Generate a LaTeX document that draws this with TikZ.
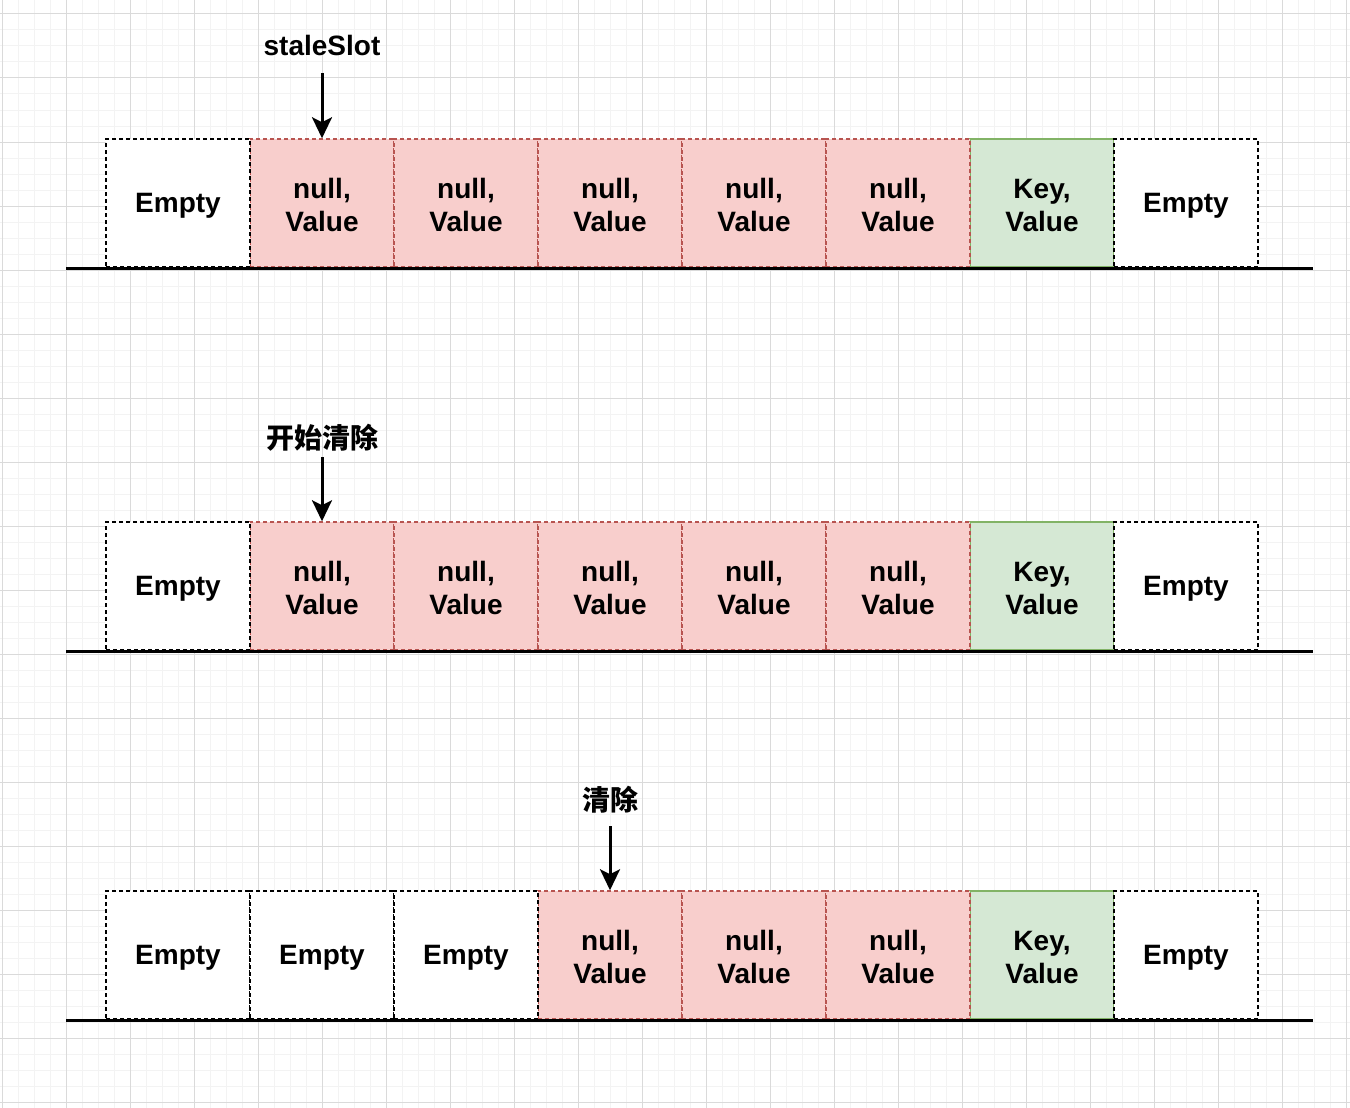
\documentclass[tikz,border=0pt]{standalone}
\usepackage{fontspec}
\setmainfont{Liberation Sans}
\newfontfamily\cjk{Noto Sans CJK SC}
\usetikzlibrary{arrows.meta}
\definecolor{redfill}{HTML}{F8CECC}
\definecolor{redline}{HTML}{B85450}
\definecolor{greenfill}{HTML}{D5E8D4}
\definecolor{greenline}{HTML}{82B366}
\definecolor{gridminor}{HTML}{F3F3F3}
\definecolor{gridmajor}{HTML}{DADADA}
\tikzset{
  cellbox/.style={rectangle, inner sep=0pt, minimum width=144pt, minimum height=128pt, line width=1.5pt, dash pattern=on 4pt off 3pt},
  emptycell/.style={cellbox, draw=black, fill=white},
  redcell/.style={cellbox, draw=redline, fill=redfill},
  greencell/.style={cellbox, draw=greenline, fill=greenfill, solid},
  celltext/.style={anchor=base, inner sep=0pt, font=\fontsize{28}{32}\selectfont\bfseries},
  toplabel/.style={anchor=base, inner sep=0pt, font=\fontsize{28}{32}\selectfont\bfseries},
  cjklabel/.style={anchor=base, inner sep=0pt, font=\fontsize{28}{32}\selectfont\cjk\bfseries},
  baseline/.style={line width=3pt, black},
  pointer/.style={line width=3pt, -{Stealth[length=21pt,width=20pt,inset=5pt]}}
}
\begin{document}
\begin{tikzpicture}[x=1pt,y=-1pt]
\useasboundingbox (0,0) rectangle (1350,1108);
\fill[white] (0,0) rectangle (1350,1108);
% grid
\foreach \gx in {2,18,...,1350} {\draw[gridminor, line width=1pt] (\gx,0) -- (\gx,1108);}
\foreach \gy in {-2,14,...,1108} {\draw[gridminor, line width=1pt] (0,\gy) -- (1350,\gy);}
\foreach \gx in {2,66,...,1350} {\draw[gridmajor, line width=1pt] (\gx,0) -- (\gx,1108);}
\foreach \gy in {14,78,...,1108} {\draw[gridmajor, line width=1pt] (0,\gy) -- (1350,\gy);}

% ---------- row 1 ----------
\node[greencell] (r1c7) at (1042,203) {};
\foreach \i/\cx in {2/322,3/466,4/610,5/754,6/898} {\node[redcell] (r1c\i) at (\cx,203) {};}
\node[emptycell] (r1c1) at (178,203) {};
\node[emptycell] (r1c8) at (1186,203) {};
\coordinate (b1l) at (66,268);
\coordinate (b1r) at (1313,268);
\draw[baseline] (b1l) -- (b1r);
\node[celltext] (t1c1) at (178,212.5) {Empty};
\node[celltext] (t1c8) at (1186,212.5) {Empty};
\foreach \i/\cx in {2/322,3/466,4/610,5/754,6/898} {
  \node[celltext] (t1a\i) at (\cx,198.5) {null,};
  \node[celltext] (t1b\i) at (\cx,231.5) {Value};
}
\node[celltext] (t1a7) at (1042,198.5) {Key,};
\node[celltext] (t1b7) at (1042,231.5) {Value};
\node[toplabel] (lab1) at (322,56) {staleSlot};
\coordinate (a1) at (322,73);
\draw[pointer] (a1) -- (r1c2.north);

% ---------- row 2 ----------
\node[greencell] (r2c7) at (1042,586) {};
\foreach \i/\cx in {2/322,3/466,4/610,5/754,6/898} {\node[redcell] (r2c\i) at (\cx,586) {};}
\node[emptycell] (r2c1) at (178,586) {};
\node[emptycell] (r2c8) at (1186,586) {};
\coordinate (b2l) at (66,651);
\coordinate (b2r) at (1313,651);
\draw[baseline] (b2l) -- (b2r);
\node[celltext] (t2c1) at (178,595.5) {Empty};
\node[celltext] (t2c8) at (1186,595.5) {Empty};
\foreach \i/\cx in {2/322,3/466,4/610,5/754,6/898} {
  \node[celltext] (t2a\i) at (\cx,581.5) {null,};
  \node[celltext] (t2b\i) at (\cx,614.5) {Value};
}
\node[celltext] (t2a7) at (1042,581.5) {Key,};
\node[celltext] (t2b7) at (1042,614.5) {Value};
\node[cjklabel] (lab2) at (322,448) {开始清除};
\coordinate (a2) at (322,457);
\draw[pointer] (a2) -- (r2c2.north);

% ---------- row 3 ----------
\node[greencell] (r3c7) at (1042,955) {};
\foreach \i/\cx in {4/610,5/754,6/898} {\node[redcell] (r3c\i) at (\cx,955) {};}
\foreach \i/\cx in {1/178,2/322,3/466} {\node[emptycell] (r3c\i) at (\cx,955) {};}
\node[emptycell] (r3c8) at (1186,955) {};
\coordinate (b3l) at (66,1020);
\coordinate (b3r) at (1313,1020);
\draw[baseline] (b3l) -- (b3r);
\foreach \i/\cx in {1/178,2/322,3/466,8/1186} {\node[celltext] (t3c\i) at (\cx,964.5) {Empty};}
\foreach \i/\cx in {4/610,5/754,6/898} {
  \node[celltext] (t3a\i) at (\cx,950.5) {null,};
  \node[celltext] (t3b\i) at (\cx,983.5) {Value};
}
\node[celltext] (t3a7) at (1042,950.5) {Key,};
\node[celltext] (t3b7) at (1042,983.5) {Value};
\node[cjklabel] (lab3) at (610,810) {清除};
\coordinate (a3) at (610,826);
\draw[pointer] (a3) -- (r3c4.north);
\end{tikzpicture}
\end{document}
